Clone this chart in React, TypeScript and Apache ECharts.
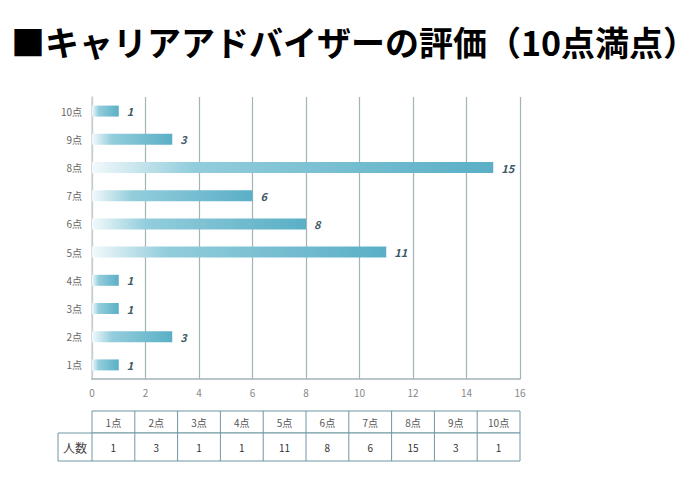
import React, { useEffect, useRef } from "react";
import * as echarts from "echarts";

const categories = ["1点", "2点", "3点", "4点", "5点", "6点", "7点", "8点", "9点", "10点"];
const counts = [1, 3, 1, 1, 11, 8, 6, 15, 3, 1];
const rowLabel = "人数";
const titleText = "■キャリアアドバイザーの評価（10点満点）";
const xMin = 0;
const xMax = 16;
const xInterval = 2;

const FONT = "'Noto Sans CJK JP', 'Noto Sans', sans-serif";

export default function App() {
  const ref = useRef<HTMLDivElement>(null);
  useEffect(() => {
    if (!ref.current) return;
    const chart = echarts.init(ref.current, null, { renderer: "svg" });

    const gridLeft = 92;
    const gridRight = 520;
    const gridTop = 97;
    const gridBottom = 379;

    // table geometry
    const tLeft = 58;
    const tTop = 411;
    const tMid = 433;
    const tBottom = 461;
    const colW = (gridRight - gridLeft) / categories.length;
    const border = "#6f96a3";

    const graphics: any[] = [];
    graphics.push({
      type: "rect",
      shape: { x: gridLeft, y: tTop, width: gridRight - gridLeft, height: tMid - tTop },
      style: { fill: "#fff", stroke: border, lineWidth: 1 },
    });
    graphics.push({
      type: "rect",
      shape: { x: tLeft, y: tMid, width: gridRight - tLeft, height: tBottom - tMid },
      style: { fill: "#fff", stroke: border, lineWidth: 1 },
    });
    graphics.push({
      type: "line",
      shape: { x1: gridLeft, y1: tMid, x2: gridLeft, y2: tBottom },
      style: { stroke: border, lineWidth: 1 },
    });
    categories.forEach((c, i) => {
      const x0 = gridLeft + i * colW;
      if (i > 0) {
        graphics.push({
          type: "line",
          shape: { x1: x0, y1: tTop, x2: x0, y2: tBottom },
          style: { stroke: border, lineWidth: 1 },
        });
      }
      graphics.push({
        type: "text",
        x: x0 + colW / 2,
        y: (tTop + tMid) / 2,
        style: {
          text: c,
          fill: "#555",
          font: `10px ${FONT}`,
          align: "center",
          verticalAlign: "middle",
        },
      });
      graphics.push({
        type: "text",
        x: x0 + colW / 2,
        y: (tMid + tBottom) / 2,
        style: {
          text: String(counts[i]),
          fill: "#333",
          font: `10px ${FONT}`,
          align: "center",
          verticalAlign: "middle",
        },
      });
    });
    graphics.push({
      type: "text",
      x: (tLeft + gridLeft) / 2,
      y: (tMid + tBottom) / 2,
      style: {
        text: rowLabel,
        fill: "#444",
        font: `12px ${FONT}`,
        align: "center",
        verticalAlign: "middle",
      },
    });

    chart.setOption({
      animation: false,
      backgroundColor: "#fff",
      title: {
        text: titleText,
        left: 6,
        top: 19,
        textStyle: {
          fontFamily: FONT,
          fontWeight: "bold",
          fontSize: 34,
          color: "#000",
        },
      },
      grid: {
        left: gridLeft,
        right: 700 - gridRight,
        top: gridTop,
        height: gridBottom - gridTop,
        containLabel: false,
      },
      xAxis: {
        type: "value",
        min: xMin,
        max: xMax,
        interval: xInterval,
        axisLine: { show: true, lineStyle: { color: "#a4b3ba", width: 1.5 } },
        axisTick: { show: false },
        splitLine: { show: true, lineStyle: { color: "#a4b3ba", width: 1.2 } },
        axisLabel: { color: "#888", fontSize: 10, fontFamily: FONT, margin: 8 },
      },
      yAxis: {
        type: "category",
        data: categories,
        axisLine: { show: true, lineStyle: { color: "#d0d6d9", width: 1.5 } },
        axisTick: { show: false },
        axisLabel: { color: "#666", fontSize: 10, fontFamily: FONT, margin: 10 },
      },
      series: [
        {
          type: "bar",
          data: counts,
          barWidth: 11,
          itemStyle: {
            color: new echarts.graphic.LinearGradient(0, 0, 1, 0, [
              { offset: 0, color: "#f2f9fb" },
              { offset: 0.25, color: "#93cddc" },
              { offset: 1, color: "#5aafc6" },
            ]),
          },
          label: {
            show: true,
            position: "right",
            distance: 8,
            fontStyle: "italic",
            fontWeight: "bold",
            fontSize: 11,
            fontFamily: FONT,
            color: "#3d5a66",
          },
        },
      ],
      graphic: graphics,
    });
    return () => chart.dispose();
  }, []);
  return <div ref={ref} style={{ width: 700, height: 480, position: "absolute", left: 0, top: 0 }} />;
}
